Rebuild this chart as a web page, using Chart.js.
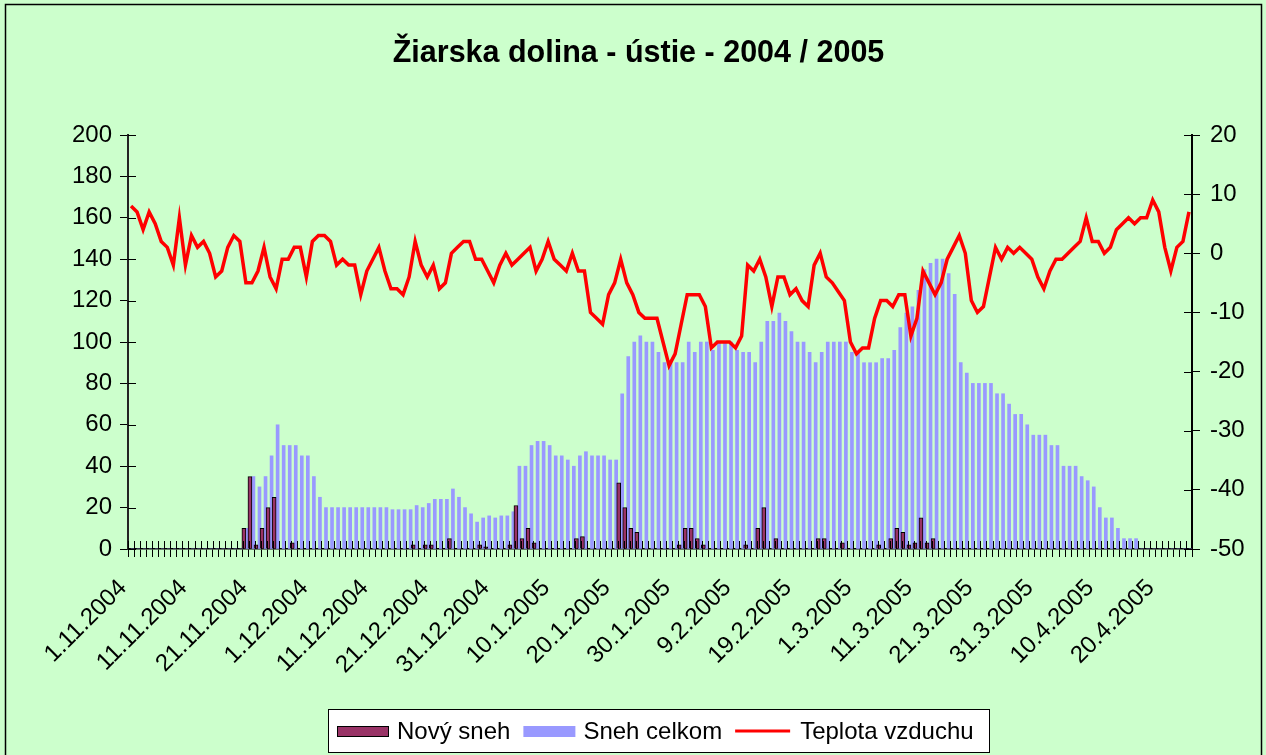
<!DOCTYPE html>
<html>
<head>
<meta charset="utf-8">
<script src="https://cdn.jsdelivr.net/npm/chart.js@4.4.1/dist/chart.umd.min.js"></script>
<style>
html,body{margin:0;padding:0;background:#CCFFCC;}
#wrap{width:1266px;height:755px;position:relative;}
canvas{display:block;}
</style>
</head>
<body>
<div id="wrap"><canvas id="c" width="1266" height="755"></canvas></div>
<script>
// ---------- DATA ----------
const chartTitle = 'Žiarska dolina - ústie - 2004 / 2005';
const seriesNames = ['Nový sneh', 'Sneh celkom', 'Teplota vzduchu'];
const firstDay = [2004, 11, 1];   // 1.11.2004
const dayCount = 176;             // 1.11.2004 – 25.4.2005
const tickLabels = ['1.11.2004','11.11.2004','21.11.2004','1.12.2004','11.12.2004','21.12.2004',
  '31.12.2004','10.1.2005','20.1.2005','30.1.2005','9.2.2005','19.2.2005','1.3.2005','11.3.2005',
  '21.3.2005','31.3.2005','10.4.2005','20.4.2005'];
const snowTicks = [0,20,40,60,80,100,120,140,160,180,200];
const tempTicks = [-50,-40,-30,-20,-10,0,10,20];

// new snow (cm), one value per day
const newSnow = [
  0,0,0,0,0,0,0,0,0,0,
  0,0,0,0,0,0,0,0,0,10,
  35,2,10,20,25,0,0,3,0,0,
  0,0,0,0,0,0,0,0,0,0,
  0,0,0,0,0,0,0,2,0,2,
  2,0,0,5,0,0,0,0,2,1,
  0,0,0,2,21,5,10,3,0,0,
  0,0,0,0,5,6,0,0,0,0,
  0,32,20,10,8,0,0,0,0,0,
  0,2,10,10,5,2,0,0,0,0,
  0,0,2,0,10,20,0,5,0,0,
  0,0,0,0,5,5,0,0,3,0,
  0,0,0,0,2,0,5,10,8,2,
  3,15,3,5,0,0,0,0,0,0,
  0,0,0,0,0,0,0,0,0,0,
  0,0,0,0,0,0,0,0,0,0,
  0,0,0,0,0,0,0,0,0,0,
  0,0,0,0,0,0
];
// total snow depth (cm)
const totalSnow = [
  0,0,0,0,0,0,0,0,0,0,
  0,0,0,0,0,0,0,0,0,10,
  35,30,35,45,60,50,50,50,45,45,
  35,25,20,20,20,20,20,20,20,20,
  20,20,20,19,19,19,19,21,20,22,
  24,24,24,29,25,20,17,13,15,16,
  15,16,16,18,40,40,50,52,52,50,
  45,45,43,40,45,47,45,45,45,43,
  43,75,93,100,103,100,100,95,90,90,
  90,90,100,95,100,100,96,100,100,100,
  96,95,95,90,100,110,110,114,110,105,
  100,100,95,90,95,100,100,100,100,95,
  95,90,90,90,92,92,96,107,114,117,
  125,135,138,140,140,133,123,90,85,80,
  80,80,80,75,75,70,65,65,60,55,
  55,55,50,50,40,40,40,35,33,30,
  20,15,15,10,5,5,5,0,0,0,
  0,0,0,0,0,0
];
// air temperature (°C)
const airTemp = [
  8,7,4,7,5,2,1,-2,6,-2,
  3,1,2,0,-4,-3,1,3,2,-5,
  -5,-3,1,-4,-6,-1,-1,1,1,-4,
  2,3,3,2,-2,-1,-2,-2,-7,-3,
  -1,1,-3,-6,-6,-7,-4,2,-2,-4,
  -2,-6,-5,0,1,2,2,-1,-1,-3,
  -5,-2,0,-2,-1,0,1,-3,-1,2,
  -1,-2,-3,0,-3,-3,-10,-11,-12,-7,
  -5,-1,-5,-7,-10,-11,-11,-11,-15,-19,
  -17,-12,-7,-7,-7,-9,-16,-15,-15,-15,
  -16,-14,-2,-3,-1,-4,-9,-4,-4,-7,
  -6,-8,-9,-2,0,-4,-5,-6.5,-8,-15,
  -17,-16,-16,-11,-8,-8,-9,-7,-7,-14,
  -11,-3,-5,-7,-5,-1,1,3,0,-8,
  -10,-9,-4,1,-1,1,0,1,0,-1,
  -4,-6,-3,-1,-1,0,1,2,6,2,
  2,0,1,4,5,6,5,6,6,9,
  7,1,-3,1,2,7
];

// calendar day labels d.m.yyyy
const categories = [];
for (let i = 0; i < dayCount; i++) {
  const d = new Date(Date.UTC(firstDay[0], firstDay[1] - 1, firstDay[2] + i));
  categories.push(d.getUTCDate() + '.' + (d.getUTCMonth() + 1) + '.' + d.getUTCFullYear());
}

// ---------- STYLE ----------
const BG = '#CCFFCC';
const NEW_COL = '#993366';
const TOT_COL = '#9999FF';
const TEMP_COL = '#FF0000';
const FONT = 'Arial, "Liberation Sans", sans-serif';
const PLOT = {left: 128, right: 1192, top: 135, bottom: 549};
const PAD_LEFT = 11;

const bgPlugin = {
  id: 'bg',
  beforeDraw(chart) {
    const ctx = chart.ctx;
    ctx.save();
    ctx.fillStyle = BG;
    ctx.fillRect(0, 0, chart.width, chart.height);
    ctx.strokeStyle = '#000';
    ctx.lineWidth = 1.5;
    ctx.strokeRect(5.5, 4.5, chart.width - 10, chart.height + 10);
    ctx.restore();
  }
};

// inner half of the "cross" tick marks (outer half is drawn by the scales)
const crossTicks = {
  id: 'crossTicks',
  afterDatasetsDraw(chart) {
    const ctx = chart.ctx, a = chart.chartArea;
    const xs = chart.scales.x, yl = chart.scales.y, yr = chart.scales.y1;
    const n = chart.data.labels.length;
    const half = (xs.getPixelForValue(1) - xs.getPixelForValue(0)) / 2;
    ctx.save();
    ctx.strokeStyle = '#000';
    ctx.lineWidth = 1;
    ctx.beginPath();
    for (let i = 0; i <= n; i++) {
      const px = Math.round(xs.getPixelForValue(i) - half) + 0.5;
      ctx.moveTo(px, a.bottom); ctx.lineTo(px, a.bottom - 8);
    }
    yl.ticks.forEach((t, k) => {
      const py = Math.round(yl.getPixelForTick(k)) + 0.5;
      ctx.moveTo(a.left, py); ctx.lineTo(a.left + 8, py);
    });
    yr.ticks.forEach((t, k) => {
      const py = Math.round(yr.getPixelForTick(k)) + 0.5;
      ctx.moveTo(a.right, py); ctx.lineTo(a.right - 8, py);
    });
    ctx.stroke();
    ctx.restore();
  }
};

// framed legend drawn from the chart's datasets, in series order
const boxLegend = {
  id: 'boxLegend',
  afterDraw(chart) {
    const ctx = chart.ctx;
    const box = {x: 328, y: 709, w: 661, h: 43};
    ctx.save();
    ctx.fillStyle = '#FFFFFF';
    ctx.fillRect(box.x, box.y, box.w, box.h);
    ctx.strokeStyle = '#000';
    ctx.lineWidth = 1;
    ctx.strokeRect(box.x + 0.5, box.y + 0.5, box.w, box.h);
    ctx.font = '24px ' + FONT;
    ctx.textBaseline = 'middle';
    const cy = box.y + 22;
    let x = box.x + 9;
    const ordered = seriesNames.map(n => chart.data.datasets.find(d => d.label === n));
    ordered.forEach(ds => {
      if (ds.type === 'line') {
        ctx.strokeStyle = ds.borderColor;
        ctx.lineWidth = 3;
        ctx.beginPath(); ctx.moveTo(x, cy); ctx.lineTo(x + 55, cy); ctx.stroke();
        x += 65;
      } else {
        ctx.fillStyle = ds.backgroundColor;
        ctx.fillRect(x, cy - 5, 52, 11);
        if (ds.borderWidth) {
          ctx.strokeStyle = ds.borderColor; ctx.lineWidth = 1;
          ctx.strokeRect(x + 0.5, cy - 4.5, 51, 10);
        }
        x += 60;
      }
      ctx.fillStyle = '#000';
      ctx.fillText(ds.label, x, cy + 1);
      x += ctx.measureText(ds.label).width + 13;
    });
    ctx.restore();
  }
};

new Chart(document.getElementById('c'), {
  data: {
    labels: categories,
    datasets: [
      {type: 'line', label: seriesNames[2], data: airTemp, yAxisID: 'y1', order: 0,
       borderColor: TEMP_COL, backgroundColor: TEMP_COL, borderWidth: 3.5, pointRadius: 0,
       tension: 0, fill: false},
      {type: 'bar', label: seriesNames[0], data: newSnow, yAxisID: 'y', order: 1,
       backgroundColor: NEW_COL, borderColor: '#000', borderWidth: 1, barThickness: 4,
       borderSkipped: 'bottom'},
      {type: 'bar', label: seriesNames[1], data: totalSnow, yAxisID: 'y', order: 2,
       backgroundColor: TOT_COL, borderWidth: 0, barThickness: 3}
    ]
  },
  options: {
    responsive: false,
    animation: false,
    devicePixelRatio: 1,
    layout: {padding: {left: PAD_LEFT, right: 0, top: 0, bottom: 0}},
    plugins: {
      legend: {display: false},
      tooltip: {enabled: false},
      title: {
        display: true, text: chartTitle, color: '#000',
        font: {family: FONT, size: 30.5, weight: 'bold', lineHeight: 1.2},
        padding: {top: 35, bottom: 135 - 35 - 30.5 * 1.2}
      }
    },
    scales: {
      x: {
        type: 'category', offset: true,
        grid: {offset: true, drawOnChartArea: false, drawTicks: true, tickLength: 8, color: '#000', lineWidth: 1},
        border: {display: true, color: '#000', width: 1.5},
        ticks: {
          autoSkip: false, maxRotation: 45, minRotation: 45, padding: 17, labelOffset: -8, color: '#000',
          font: {family: FONT, size: 24},
          callback: (v, i) => tickLabels.includes(categories[i]) ? categories[i] : ''
        },
        afterFit: s => { s.height = 755 - PLOT.bottom; }
      },
      y: {
        position: 'left', min: snowTicks[0], max: snowTicks[snowTicks.length - 1],
        grid: {drawOnChartArea: false, tickLength: 8, color: '#000'},
        border: {display: true, color: '#222', width: 2},
        ticks: {stepSize: 20, padding: 8, color: '#000', font: {family: FONT, size: 24}},
        afterFit: s => { s.width = PLOT.left - PAD_LEFT; }
      },
      y1: {
        position: 'right', min: tempTicks[0], max: tempTicks[tempTicks.length - 1],
        grid: {drawOnChartArea: false, tickLength: 8, color: '#000'},
        border: {display: true, color: '#000', width: 2},
        ticks: {stepSize: 10, padding: 10, color: '#000', font: {family: FONT, size: 24}},
        afterFit: s => { s.width = 1266 - PLOT.right; }
      }
    }
  },
  plugins: [bgPlugin, crossTicks, boxLegend]
});
</script>
</body>
</html>
